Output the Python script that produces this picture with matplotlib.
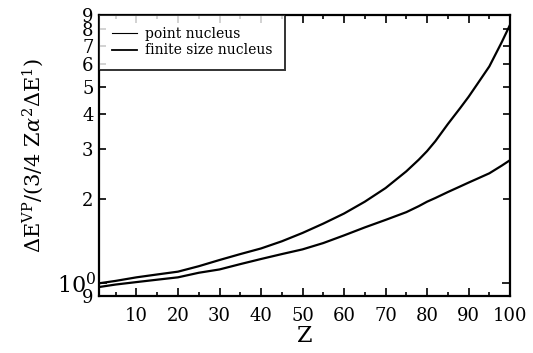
import numpy as np
import matplotlib
matplotlib.use("Agg")
import matplotlib.pyplot as plt
from matplotlib.ticker import FixedLocator, FixedFormatter

plt.rcParams['font.family'] = ['DejaVu Serif']
plt.rcParams['mathtext.fontset'] = 'dejavuserif'

# values
z = [1, 5, 10, 15, 20, 25, 30, 35, 40, 45, 50, 55, 60, 65, 70, 75, 78, 80, 82, 85, 88,
     90, 92, 95, 98, 100]
point_nucleus = [1.00, 1.02, 1.05, 1.075, 1.10, 1.15, 1.21, 1.27, 1.33, 1.41, 1.51, 1.63,
                 1.77, 1.95, 2.18, 2.50, 2.75, 2.95, 3.20, 3.68, 4.20, 4.60, 5.08, 5.90,
                 7.20, 8.30]
finite_nucleus = [0.97, 0.99, 1.01, 1.03, 1.05, 1.09, 1.12, 1.17, 1.22, 1.27, 1.32, 1.39,
                  1.48, 1.58, 1.68, 1.79, 1.88, 1.95, 2.01, 2.11, 2.21, 2.28, 2.35, 2.46,
                  2.62, 2.74]

x_major = [10, 20, 30, 40, 50, 60, 70, 80, 90, 100]
x_minor = [5, 15, 25, 35, 45, 55, 65, 75, 85, 95]
y_minor = [0.9, 2, 3, 4, 5, 6, 7, 8, 9]
y_minor_labels = ["9", "2", "3", "4", "5", "6", "7", "8", "9"]

fig = plt.figure(figsize=(5.33, 3.53), dpi=100)
ax = fig.add_axes([0.186, 0.161, 0.771, 0.797])

ax.plot(z, point_nucleus, color="black", lw=1.6, label="point nucleus")
ax.plot(z, finite_nucleus, color="black", lw=1.6, label="finite size nucleus")

ax.set_yscale("log")
ax.set_xlim(1, 100)
ax.set_ylim(0.9, 9)

ax.xaxis.set_major_locator(FixedLocator(x_major))
ax.xaxis.set_minor_locator(FixedLocator(x_minor))
ax.yaxis.set_major_locator(FixedLocator([1]))
ax.yaxis.set_major_formatter(FixedFormatter([r"$10^0$"]))
ax.yaxis.set_minor_locator(FixedLocator(y_minor))
ax.yaxis.set_minor_formatter(FixedFormatter(y_minor_labels))

ax.tick_params(which="both", direction="in", top=True, right=True, width=1.2, labelsize=13)
ax.tick_params(axis="x", which="major", length=6, pad=8)
ax.tick_params(axis="x", which="minor", length=3)
ax.tick_params(axis="y", which="major", length=6, labelsize=16, pad=2)
ax.tick_params(axis="y", which="minor", length=5, labelsize=13, pad=4)
for s in ax.spines.values():
    s.set_linewidth(1.6)

ax.set_xlabel("Z", fontsize=16, labelpad=0)
ax.set_ylabel(r"$\Delta\mathrm{E}^{\mathrm{VP}}/(3/4\ \mathrm{Z}\alpha^{2}\Delta\mathrm{E}^{1})$",
              fontsize=15, labelpad=8)

leg = ax.legend(loc="upper left", fontsize=10, frameon=True, fancybox=False,
                borderaxespad=0, handlelength=1.8, handletextpad=0.6,
                borderpad=0.9, labelspacing=0.15)
leg.get_frame().set_edgecolor("black")
leg.get_frame().set_linewidth(1.4)
leg.get_lines()[0].set_linewidth(0.8)
leg.get_lines()[1].set_linewidth(1.3)

fig.savefig("out.png", dpi=100)
